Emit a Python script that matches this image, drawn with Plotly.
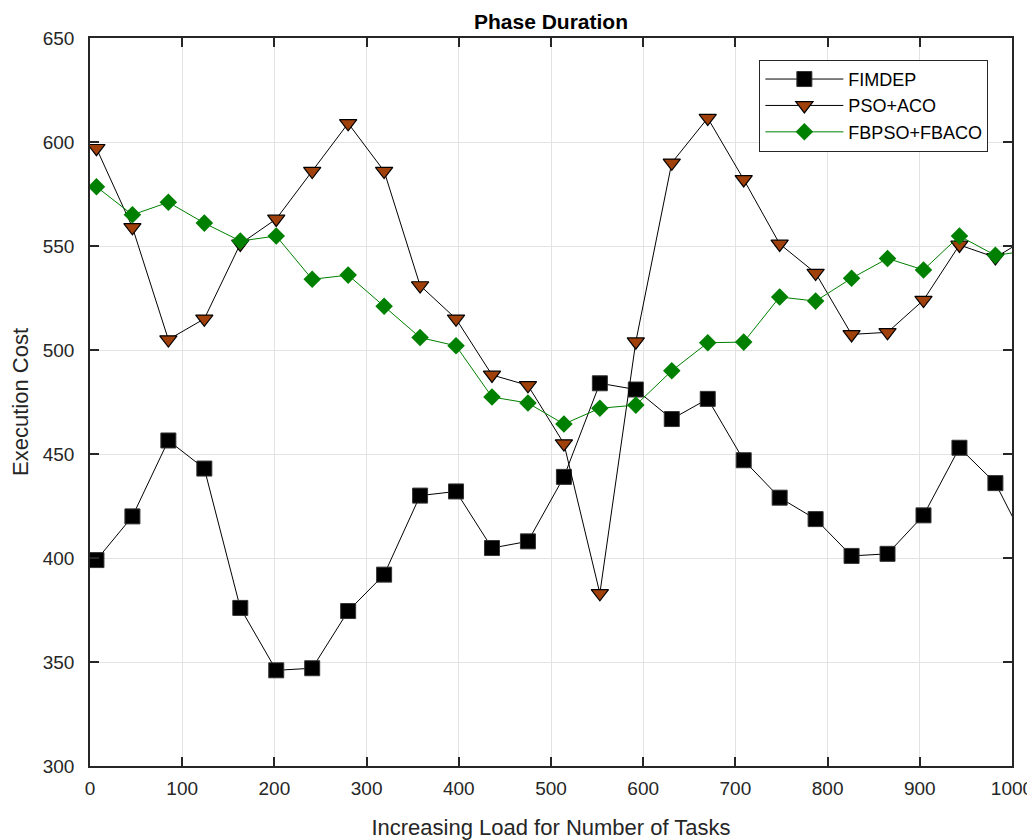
import plotly.graph_objects as go

x_tasks = [7 + 39 * i for i in range(27)]

fimdep = [399, 420, 456.5, 443, 376, 346, 347, 374.5, 392, 430, 432, 404.8, 408, 439,
          484, 481, 466.8, 476.5, 447, 429, 418.7, 401, 402, 420.5, 453, 436, 402]
pso_aco = [597, 559, 505, 515, 551, 563, 586, 609, 586, 531, 515, 488, 483, 455,
           383, 504, 590, 611.5, 582, 551, 537, 507.5, 508.5, 524, 550.5, 544.5, 555]
fbpso_fbaco = [578.5, 565, 571, 561, 552.4, 554.8, 534, 536, 521, 506, 502, 477.4, 474.5, 464.4,
               472, 473.5, 490, 503.5, 503.8, 525.5, 523.5, 534.5, 544, 538.5, 554.8, 545.5, 548]

FONT = "Arial, Liberation Sans, sans-serif"

fig = go.Figure()
fig.add_trace(go.Scatter(
    x=x_tasks, y=fimdep, name="FIMDEP", mode="lines+markers",
    line=dict(color="black", width=1),
    marker=dict(symbol="square", size=15, color="black", line=dict(color="#333333", width=1))))
fig.add_trace(go.Scatter(
    x=x_tasks, y=pso_aco, name="PSO+ACO", mode="lines+markers",
    line=dict(color="black", width=1),
    marker=dict(symbol="triangle-down", size=15, color="#A0400A", line=dict(color="black", width=1.2))))
fig.add_trace(go.Scatter(
    x=x_tasks, y=fbpso_fbaco, name="FBPSO+FBACO", mode="lines+markers",
    line=dict(color="#008000", width=1),
    marker=dict(symbol="diamond", size=13.5, color="#008000", line=dict(color="#008000", width=0))))

axis_common = dict(
    showline=True, linecolor="#262626", linewidth=1.5, mirror="ticks",
    ticks="inside", ticklen=9, tickwidth=1.5, tickcolor="#262626",
    showgrid=True, gridcolor="#E3E3E3", gridwidth=1, zeroline=False,
    tickfont=dict(family=FONT, size=19, color="#262626"),
    automargin=False,
)

fig.update_layout(
    width=1027, height=832,
    paper_bgcolor="white", plot_bgcolor="white",
    margin=dict(l=82, r=23, t=30, b=74),
    title=dict(text="<b>Phase Duration</b>", xref="paper", x=0.5, xanchor="center",
               y=0.993, yanchor="top",
               font=dict(family=FONT, size=21, color="black")),
    xaxis=dict(range=[0, 1000], tickvals=[0, 100, 200, 300, 400, 500, 600, 700, 800, 900, 1000],
               ticklabelstandoff=4,
               title=dict(text="Increasing Load for Number of Tasks", standoff=23,
                          font=dict(family=FONT, size=22, color="#262626")),
               **axis_common),
    yaxis=dict(range=[300, 650], tickvals=[300, 350, 400, 450, 500, 550, 600, 650],
               ticklabelstandoff=10,
               title=dict(text="Execution Cost", standoff=14,
                          font=dict(family=FONT, size=22, color="#262626")),
               **axis_common),
    legend=dict(x=0.726, y=0.970, xanchor="left", yanchor="top",
                bgcolor="white", bordercolor="#262626", borderwidth=1,
                font=dict(family=FONT, size=18, color="black"),
                itemwidth=78, tracegroupgap=0),
    showlegend=True,
)

fig.write_html("out.html")
